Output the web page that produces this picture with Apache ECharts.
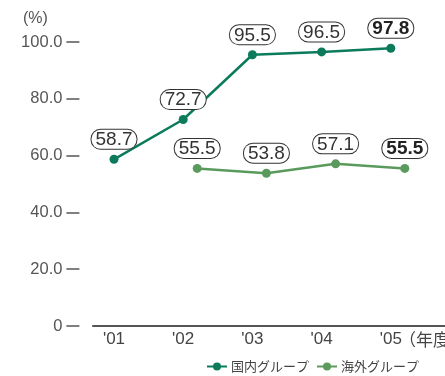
<!DOCTYPE html>
<html><head><meta charset="utf-8">
<script src="https://cdn.jsdelivr.net/npm/echarts@6/dist/echarts.min.js"></script>
<style>html,body{margin:0;padding:0;background:#fff}#c{width:445px;height:376px}</style>
</head><body><div id="c"></div>
<script>
const categories = ["'01", "'02", "'03", "'04", "'05"];
const domestic = [58.7, 72.7, 95.5, 96.5, 97.8];
const overseas = [null, 55.5, 53.8, 57.1, 55.5];
const seriesNames = ['国内グループ', '海外グループ'];
const yTicks = [0, 20, 40, 60, 80, 100];
const yTickLabels = ['0', '20.0', '40.0', '60.0', '80.0', '100.0'];
const yUnit = '(%)';
const xUnit = '（年度）';

const NARROW = '"Liberation Sans Narrow", "Liberation Sans", Arial, sans-serif';
const C1 = '#0b7b5c', C2 = '#5a9a5c';
const lastIdx = categories.length - 1;

function lbl(p) {
  const t = p.value.toFixed(1);
  return p.dataIndex === lastIdx ? '{b|' + t + '}' : t;
}
const labelStyle = {
  show: true, position: 'top', distance: 6, formatter: lbl,
  fontFamily: NARROW, fontSize: 19, color: '#333', lineHeight: 18,
  backgroundColor: '#fff', borderColor: '#333', borderWidth: 1, borderRadius: 9,
  padding: [1, 4, 0, 4],
  rich: { b: { fontFamily: NARROW, fontSize: 19, fontWeight: 'bold', color: '#222', lineHeight: 18 } }
};

const chart = echarts.init(document.getElementById('c'), null, {renderer: 'canvas'});
chart.setOption({
  animation: false,
  title: [
    {text: yUnit, left: 18, top: 6, textStyle: {fontFamily: NARROW, fontSize: 16, fontWeight: 'normal', color: '#555'}},
    {text: xUnit, left: 394, top: 326, textStyle: {fontFamily: '"Noto Sans CJK JP", sans-serif', fontSize: 17, fontWeight: 'normal', color: '#444'}}
  ],
  legend: {
    left: 201, top: 355, width: 600, itemWidth: 20, itemHeight: 10, itemGap: 7,
    textStyle: {fontFamily: '"Noto Sans CJK JP", sans-serif', fontSize: 13, color: '#444', padding: [0, 0, 0, -1]},
    data: seriesNames
  },
  grid: [
    {left: 79.4, right: 19.6, top: 42, bottom: 50},
    {left: 93.4, right: 5.6, top: 42, bottom: 50},
    {left: 93, right: 0, top: 42, bottom: 50}
  ],
  xAxis: [
    {gridIndex: 0, type: 'category', data: categories, boundaryGap: true,
     axisLine: {show: false}, axisTick: {show: false},
     axisLabel: {fontFamily: NARROW, fontSize: 17, color: '#444', margin: 5}},
    {gridIndex: 1, type: 'category', data: categories, show: false},
    {gridIndex: 2, type: 'value', min: 0, max: 1, axisLabel: {show: false}, axisTick: {show: false},
     splitLine: {show: false}, axisLine: {show: true, lineStyle: {color: '#555', width: 2}}}
  ],
  yAxis: [
    {gridIndex: 0, type: 'value', min: 0, max: 100, interval: 20,
     axisLine: {show: false}, splitLine: {show: false},
     axisTick: {show: true, length: 13, lineStyle: {color: '#555', width: 1.5}},
     axisLabel: {fontFamily: NARROW, fontSize: 16.5, color: '#555', margin: 17,
       formatter: v => yTickLabels[yTicks.indexOf(v)]}},
    {gridIndex: 1, type: 'value', min: 0, max: 100, show: false},
    {gridIndex: 2, type: 'value', min: 0, max: 100, show: false}
  ],
  series: [
    {name: seriesNames[0], type: 'line', xAxisIndex: 0, yAxisIndex: 0, data: domestic,
     symbol: 'circle', symbolSize: 9, itemStyle: {color: C1}, lineStyle: {color: C1, width: 2.5},
     label: labelStyle},
    {name: seriesNames[1], type: 'line', xAxisIndex: 1, yAxisIndex: 1, data: overseas,
     symbol: 'circle', symbolSize: 9, itemStyle: {color: C2}, lineStyle: {color: C2, width: 2.5},
     label: labelStyle}
  ]
});
</script></body></html>
